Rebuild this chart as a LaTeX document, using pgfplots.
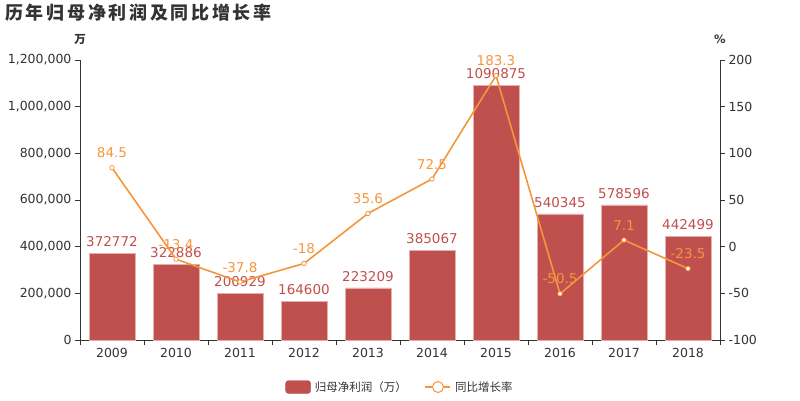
\documentclass[border=0pt]{standalone}
\usepackage{fontspec}
\setmainfont{DejaVu Sans}
\newfontfamily\cjk{Noto Sans CJK SC}
\newfontfamily\cjktitle[LetterSpace=15]{Noto Sans CJK SC}
\usepackage{pgfplots}
\usepackage{pgfplotstable}
\pgfplotsset{compat=1.18}
\definecolor{barred}{HTML}{C0504D}
\definecolor{lineor}{HTML}{F5963C}
\definecolor{txt}{HTML}{333333}

\pgfplotstableread{
x y lab
0 372772 372772
1 322886 322886
2 200929 200929
3 164600 164600
4 223209 223209
5 385067 385067
6 1090875 1090875
7 540345 540345
8 578596 578596
9 442499 442499
}\bardata

\pgfplotstableread{
x y lab
0 84.5 84.5
1 -13.4 -13.4
2 -37.8 -37.8
3 -18 -18
4 35.6 35.6
5 72.5 72.5
6 183.3 183.3
7 -50.5 -50.5
8 7.1 7.1
9 -23.5 -23.5
}\linedata

\pgfplotsset{
  common/.style={
    at={(80pt,60pt)}, anchor=south west,
    scale only axis, width=640pt, height=280pt,
    xmin=-0.5, xmax=9.5,
    tick align=outside,
    major tick length=5pt, minor tick length=5pt,
    tick style={txt, line width=0.8pt},
    axis line style={-, txt, line width=0.8pt},
    ticklabel style={font=\fontsize{12.5}{14}\selectfont, text=txt},
    /pgf/number format/assume math mode=true,
  }
}

\begin{document}
\begin{tikzpicture}
\path[use as bounding box] (0pt,0pt) rectangle (800pt,400pt);

\begin{axis}[common,
  ymin=0, ymax=1200000,
  axis x line*=bottom, axis y line*=left,
  xtick={0,...,9},
  xticklabels={2009,2010,2011,2012,2013,2014,2015,2016,2017,2018},
  minor xtick={-0.5,0.5,...,9.5},
  major x tick style={draw=none},
  ytick={0,200000,400000,600000,800000,1000000,1200000},
  scaled y ticks=false,
  yticklabel style={/pgf/number format/.cd, fixed, 1000 sep={,}},
]
\addplot[ybar, bar width=46pt, fill=barred, draw=barred!45!white, line width=0.6pt,
  point meta=explicit symbolic,
  nodes near coords,
  nodes near coords style={font=\fontsize{13.5}{15}\selectfont, text=barred, anchor=south, yshift=3pt}]
  table[x=x, y=y, meta=lab] {\bardata};
\end{axis}

\begin{axis}[common,
  ymin=-100, ymax=200,
  axis y line*=right, axis x line=none,
  ytick={-100,-50,0,50,100,150,200},
  legend style={at={(0.5,-0.168)}, anchor=center, draw=none, fill=none,
    legend columns=2, font=\fontsize{11.5}{13}\selectfont, text=txt,
    /tikz/every even column/.append style={column sep=16pt}},
  legend cell align=left,
]
\addlegendimage{legend image code/.code={\fill[barred, rounded corners=3pt] (0pt,-6.5pt) rectangle (25pt,6.5pt);}}
\addplot[lineor, line width=1.6pt, mark=*, mark size=2.2pt,
  mark options={fill=white, draw=lineor, line width=0.8pt},
  point meta=explicit symbolic,
  nodes near coords,
  nodes near coords style={font=\fontsize{13.5}{15}\selectfont, text=lineor, anchor=south, yshift=6pt},
  legend image code/.code={\draw[lineor, line width=1.2pt] (0pt,0pt) -- (25pt,0pt); \draw[lineor, fill=white, line width=1pt] (12.5pt,0pt) circle (5.5pt);}]
  table[x=x, y=y, meta=lab] {\linedata};
\legend{{\cjk\hspace{2pt}归母净利润（万）},{\cjk\hspace{2pt}同比增长率}}
\end{axis}

\node[anchor=west, text=txt, inner sep=0pt] at (5pt,387pt) {\fontsize{18}{20}\selectfont\cjktitle\bfseries 历年归母净利润及同比增长率};
\node[text=txt, inner sep=0pt] at (80pt,361pt) {\fontsize{11.5}{13}\selectfont\cjk\bfseries 万};
\node[text=txt, inner sep=0pt] at (720pt,361pt) {\fontsize{11.5}{13}\selectfont\bfseries \%};
\end{tikzpicture}
\end{document}
